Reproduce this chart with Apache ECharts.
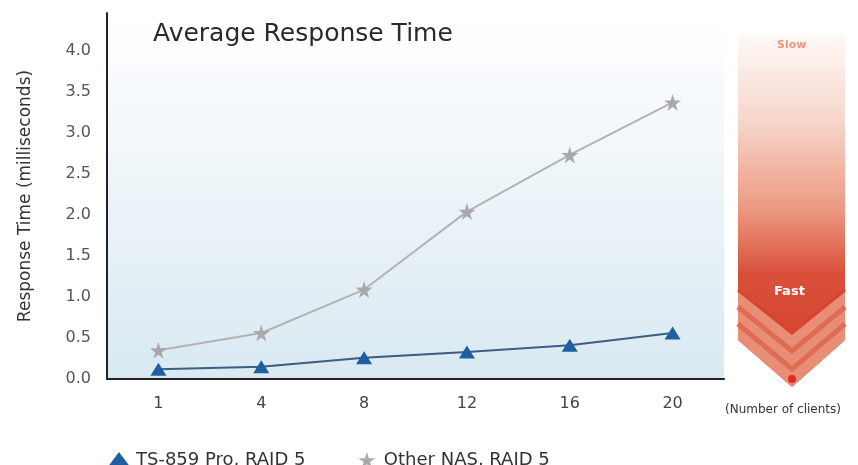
<!DOCTYPE html>
<html><head><meta charset="utf-8">
<script src="https://cdn.jsdelivr.net/npm/echarts@6/dist/echarts.min.js"></script>
<style>html,body{margin:0;padding:0;background:#fff}#c{width:858px;height:465px}</style>
</head><body><div id="c"></div>
<script>
const categories = ['1', '4', '8', '12', '16', '20'];
const ts859 = [0.12, 0.15, 0.26, 0.33, 0.41, 0.56];
const otherNas = [0.35, 0.56, 1.09, 2.04, 2.73, 3.37];
const seriesNames = ['TS-859 Pro, RAID 5', 'Other NAS, RAID 5'];
const star = 'path://M50,0 L61,35 L98,35 L68,57 L79,91 L50,70 L21,91 L32,57 L2,35 L39,35 Z';
const font = 'DejaVu Sans, Verdana, sans-serif';

const chart = echarts.init(document.getElementById('c'));
chart.setOption({
  animation: false,
  textStyle: { fontFamily: font },
  title: {
    text: 'Average Response Time', left: 148, top: 17,
    textStyle: { fontSize: 25, fontWeight: 'normal', color: '#2a2a2a', fontFamily: font }
  },
  grid: {
    left: 107, right: 134, top: 13, bottom: 86, show: true, borderWidth: 0,
    backgroundColor: new echarts.graphic.LinearGradient(0, 0, 0, 1, [
      { offset: 0, color: '#ffffff' }, { offset: 1, color: '#d9e9f2' }
    ])
  },
  legend: {
    left: 102, top: 446, itemGap: 53, itemWidth: 24, itemHeight: 16,
    textStyle: { fontSize: 18, color: '#333', fontFamily: font },
    data: [
      { name: seriesNames[0], icon: 'triangle', itemStyle: { color: '#1d5fa0' } },
      { name: seriesNames[1], icon: star, itemStyle: { color: '#aaaaaa' } }
    ]
  },
  xAxis: {
    type: 'category', data: categories, boundaryGap: true,
    axisLine: { lineStyle: { color: '#222', width: 2 } },
    axisTick: { show: false },
    axisLabel: { fontSize: 16, color: '#444', margin: 17, fontFamily: font }
  },
  yAxis: {
    type: 'value', min: 0, max: 4.46, interval: 0.5,
    axisLine: { show: true, lineStyle: { color: '#222', width: 2 } },
    axisTick: { show: false },
    splitLine: { show: false },
    axisLabel: { showMaxLabel: false, fontSize: 16, color: '#555', margin: 16, fontFamily: font,
      formatter: v => v.toFixed(1) },
    name: 'Response Time (milliseconds)', nameLocation: 'middle', nameGap: 73,
    nameTextStyle: { fontSize: 17, color: '#333', fontFamily: font }
  },
  series: [
    {
      name: seriesNames[0], type: 'line', data: ts859, z: 3,
      symbol: 'triangle', symbolSize: [16, 13],
      lineStyle: { color: '#3d5e82', width: 2 },
      itemStyle: { color: '#1d5fa0' }
    },
    {
      name: seriesNames[1], type: 'line', data: otherNas, z: 2,
      symbol: star, symbolSize: 17,
      lineStyle: { color: '#b3b3b3', width: 2 },
      itemStyle: { color: '#a9a9a9' }
    }
  ],
  graphic: [
    {
      type: 'polygon', z: 1,
      shape: { points: [[738, 33], [845, 33], [845, 340], [792, 387], [738, 340]] },
      style: {
        fill: new echarts.graphic.LinearGradient(0, 0, 0, 1, [
          { offset: 0, color: '#fefaf8' }, { offset: 0.25, color: '#f6d6ca' },
          { offset: 0.5, color: '#ec9880' }, { offset: 0.68, color: '#d9503a' }, { offset: 1, color: '#d63e2a' }
        ])
      }
    },
    { type: 'polygon', z: 2, shape: { points: [[738, 290], [792, 333], [845, 290], [845, 340], [792, 387], [738, 340]] }, style: { fill: '#e98e76' } },
    { type: 'polyline', z: 3, shape: { points: [[738, 290], [792, 333], [845, 290]] }, style: { stroke: '#d8452f', lineWidth: 3, fill: null } },
    { type: 'polyline', z: 3, shape: { points: [[738, 307], [792, 351], [845, 307]] }, style: { stroke: '#e06c55', lineWidth: 5, fill: null } },
    { type: 'polyline', z: 3, shape: { points: [[738, 324], [792, 369], [845, 324]] }, style: { stroke: '#e06c55', lineWidth: 5, fill: null } },
    { type: 'circle', z: 3, shape: { cx: 792, cy: 379, r: 4 }, style: { fill: '#e02b24' } },
    { type: 'text', z: 4, left: 777, top: 40, style: { text: 'Slow', fill: '#e8987c', font: 'bold 11px ' + font } },
    { type: 'text', z: 4, left: 774, top: 285, style: { text: 'Fast', fill: '#ffffff', font: 'bold 13px ' + font } },
    { type: 'text', z: 4, left: 725, top: 404, style: { text: '(Number of clients)', fill: '#333', font: '12px ' + font } }
  ]
});
</script></body></html>
